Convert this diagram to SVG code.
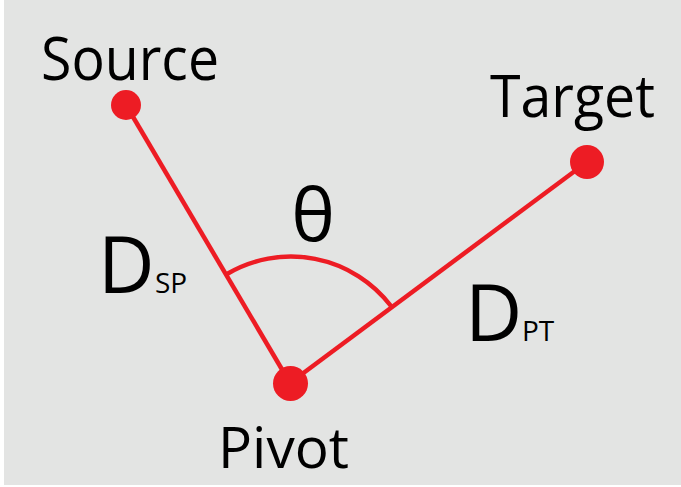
<svg xmlns="http://www.w3.org/2000/svg" width="681" height="487" viewBox="0 0 681 487">
<style>
.lbl{font-family:"Open Sans","Noto Sans","Liberation Sans",sans-serif;fill:#000;}
.ln{stroke:#ed1c24;stroke-width:4.5;fill:none;stroke-linecap:butt;}
.dot{fill:#ed1c24;}
</style>
<rect x="0" y="0" width="681" height="487" fill="#ffffff"/>
<rect x="4" y="0" width="677" height="485" fill="#e3e4e3"/>
<g id="connectors">
<line class="ln" x1="126" y1="105" x2="290" y2="383"/>
<line class="ln" x1="290" y1="383" x2="587" y2="162"/>
<path class="ln" d="M227,274 A126,126 0 0 1 391,306"/>
</g>
<g id="source">
<circle class="dot" cx="126" cy="105" r="15"/>
<text class="lbl" x="41" y="80" font-size="61" textLength="178" lengthAdjust="spacingAndGlyphs">Source</text>
</g>
<g id="target">
<circle class="dot" cx="587" cy="162" r="17"/>
<text class="lbl" x="490" y="117" font-size="58" textLength="165" lengthAdjust="spacingAndGlyphs">Target</text>
</g>
<g id="pivot">
<circle class="dot" cx="290.5" cy="383.5" r="17.5"/>
<text class="lbl" x="218" y="468" font-size="57" textLength="131" lengthAdjust="spacingAndGlyphs">Pivot</text>
</g>
<g id="theta">
<text class="lbl" x="313" y="241" font-size="74" text-anchor="middle">θ</text>
</g>
<g id="dsp">
<text class="lbl" x="98" y="293" font-size="78">D</text>
<text class="lbl" x="155" y="293" font-size="28">SP</text>
</g>
<g id="dpt">
<text class="lbl" x="465" y="341" font-size="79">D</text>
<text class="lbl" x="522" y="341" font-size="28">PT</text>
</g>
</svg>
